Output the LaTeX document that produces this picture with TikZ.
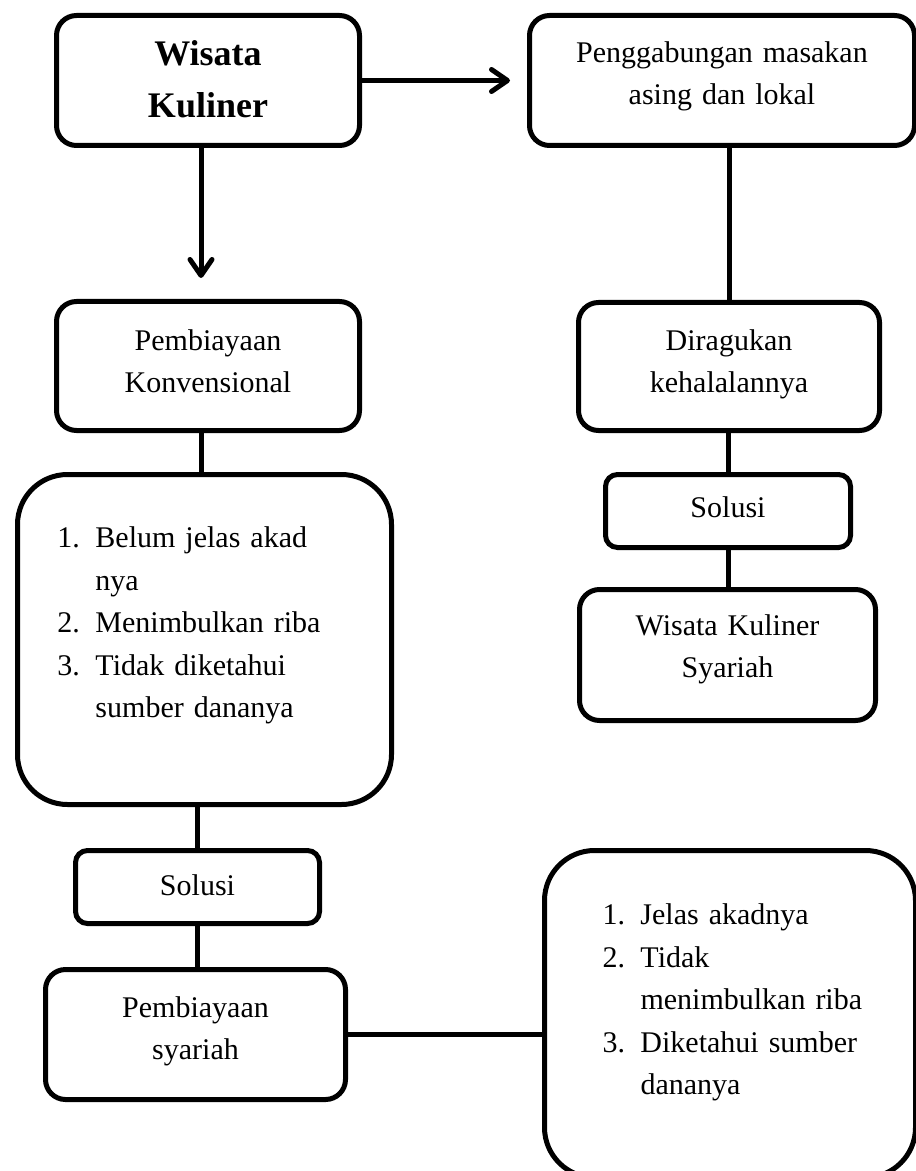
\documentclass[tikz,border=0pt]{standalone}
\usepackage{fontspec}
\setmainfont{Liberation Serif}
\usepackage{tikz}
\usetikzlibrary{arrows.meta}

\newcommand{\numline}[3][20pt]{\hspace*{#1}\makebox[19pt][l]{#2}#3}

\begin{document}
\begin{tikzpicture}[x=0.5pt, y=-0.5pt, >={Straight Barb[length=8pt,width=11pt,round]},
    box/.style={draw, line width=2.5pt, rounded corners=10pt, inner sep=0pt, anchor=north west,
        align=center, font=\fontsize{15}{21}\selectfont},
    listbox/.style={box, rounded corners=25pt, align=left, font=\fontsize{15}{21.3}\selectfont},
    link/.style={line width=2.5pt}]
    \useasboundingbox (0,0) rectangle (915,1171);

    % Left column
    \node[box, text width=151.5pt, text height=25pt, text depth=40pt,
        font=\bfseries\fontsize{18}{26}\selectfont] (wisata) at (54,13) {Wisata\\Kuliner};
    \node[box, text width=151.5pt, text height=24.5pt, text depth=40pt] (konv) at (54,299) {Pembiayaan\\Konvensional};
    \node[listbox, text width=187pt, text height=36.5pt, text depth=128.5pt] (masalah) at (15,472)
        {\numline{1.}{Belum jelas akad}\\ \numline{}{nya}\\ \numline{2.}{Menimbulkan riba}\\
         \numline{3.}{Tidak diketahui}\\ \numline{}{sumber dananya}};
    \node[box, rounded corners=6pt, text width=122pt, text height=22.5pt, text depth=14pt] (solusiA) at (73,848) {Solusi};
    \node[box, text width=150pt, text height=24pt, text depth=41pt] (syariah) at (43,967) {Pembiayaan\\syariah};

    % Right column
    \node[box, text width=192.5pt, text height=23.5pt, text depth=41.5pt] (gabung) at (527,13) {Penggabungan masakan\\asing dan lokal};
    \node[box, text width=150.5pt, text height=24pt, text depth=40pt] (ragu) at (576,300) {Diragukan\\kehalalannya};
    \node[box, rounded corners=6pt, text width=122.5pt, text height=21.5pt, text depth=15pt] (solusiB) at (603,472) {Solusi};
    \node[box, text width=148pt, text height=23pt, text depth=42.5pt] (wks) at (577,587) {Wisata Kuliner\\Syariah};
    \node[listbox, text width=185.5pt, text height=37pt, text depth=126.5pt] (manfaat) at (542,848)
        {\numline[29pt]{1.}{Jelas akadnya}\\ \numline[29pt]{2.}{Tidak}\\ \numline[29pt]{}{menimbulkan riba}\\
         \numline[29pt]{3.}{Diketahui sumber}\\ \numline[29pt]{}{dananya}};

    % Arrows
    \draw[->, link, shorten >=8.5pt] (wisata.east) -- (gabung.west);
    \draw[->, link, shorten >=10.5pt] ([xshift=-3.5pt]wisata.south) -- ([xshift=-3.5pt]konv.north);

    % Lines
    \draw[link] ([xshift=-3.5pt]konv.south) -- ([xshift=-3.5pt]konv.south |- masalah.north);
    \draw[link] (solusiA.north |- masalah.south) -- (solusiA.north);
    \draw[link] (solusiA.south) -- (solusiA.south |- syariah.north);
    \draw[link] (syariah.east) -- (syariah.east -| manfaat.west);
    \draw[link] (ragu.north |- gabung.south) -- (ragu.north);
    \draw[link] (solusiB.north |- ragu.south) -- (solusiB.north);
    \draw[link] (solusiB.south) -- (solusiB.south |- wks.north);
\end{tikzpicture}
\end{document}
